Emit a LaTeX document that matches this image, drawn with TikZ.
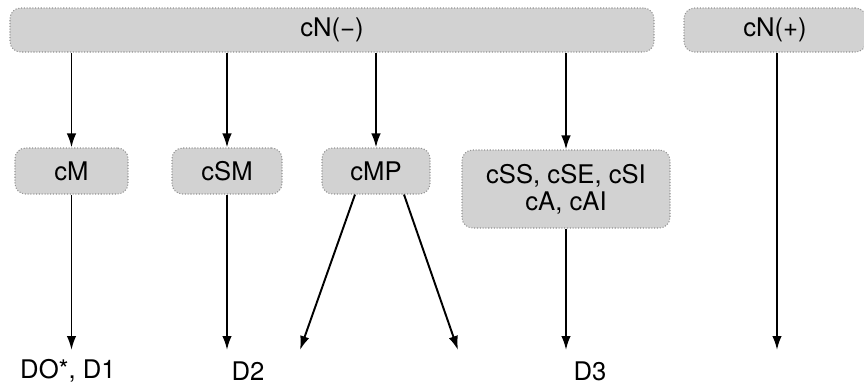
\documentclass[tikz,border=0pt]{standalone}
\usepackage{fontspec}
\setmainfont{TeX Gyre Heros}
\usepackage{tikz}
\usetikzlibrary{positioning, arrows.meta}

\tikzset{
  grp/.style={draw=gray!85, densely dotted, line width=0.6pt, fill=gray!35, rounded corners=6pt,
    minimum height=0.92cm, inner sep=2pt, font=\fontsize{14.6}{15.2}\selectfont},
  arr/.style={line width=1.1pt, -{Latex[length=2.8mm, width=1.9mm]}},
  lbl/.style={inner sep=1pt, font=\fontsize{14.6}{15.2}\selectfont}
}

\begin{document}
\begin{tikzpicture}
  \useasboundingbox (0,0) rectangle (17.28,-7.7);
  % top row
  \node [grp, minimum width=12.88cm, minimum height=0.88cm] (neg) at (6.64, -0.6) {cN(−)};
  \node [grp, minimum width=3.64cm, minimum height=0.88cm] (pos) at (15.5, -0.6) {cN(+)};
  % second row
  \node [grp, minimum width=2.26cm] (cM) at (1.43, -3.42) {cM};
  \node [grp, minimum width=2.2cm] (cSM) at (4.54, -3.42) {cSM};
  \node [grp, minimum width=2.16cm] (cMP) at (7.52, -3.42) {cMP};
  \node [grp, minimum width=4.16cm, minimum height=1.56cm, align=center] (cSS) at (11.32, -3.78) {cSS, cSE, cSI\\cA, cAI};
  % ends
  \coordinate (eM) at (1.43, -7.0);
  \coordinate (eSM) at (4.54, -7.0);
  \coordinate (eMPl) at (6.0, -7.0);
  \coordinate (eMPr) at (9.16, -7.0);
  \coordinate (eSS) at (11.32, -7.0);
  \coordinate (ePos) at (15.54, -7.0);
  \node [lbl] (d01) at (1.36, -7.42) {DO*, D1};
  \node [lbl] (d2) at (4.96, -7.42) {D2};
  \node [lbl] (d3) at (11.8, -7.42) {D3};
  % arrows
  \draw[arr] (cM |- neg.south) -- (cM);
  \draw[arr] (cSM |- neg.south) -- (cSM);
  \draw[arr] (cMP |- neg.south) -- (cMP);
  \draw[arr] (cSS |- neg.south) -- (cSS);
  \draw[arr] (cM) -- (eM);
  \draw[arr] (cSM) -- (eSM);
  \draw[arr] ([xshift=-0.42cm]cMP.south) -- (eMPl);
  \draw[arr] ([xshift=0.56cm]cMP.south) -- (eMPr);
  \draw[arr] (cSS) -- (eSS);
  \draw[arr] (ePos |- pos.south) -- (ePos);
\end{tikzpicture}
\end{document}
